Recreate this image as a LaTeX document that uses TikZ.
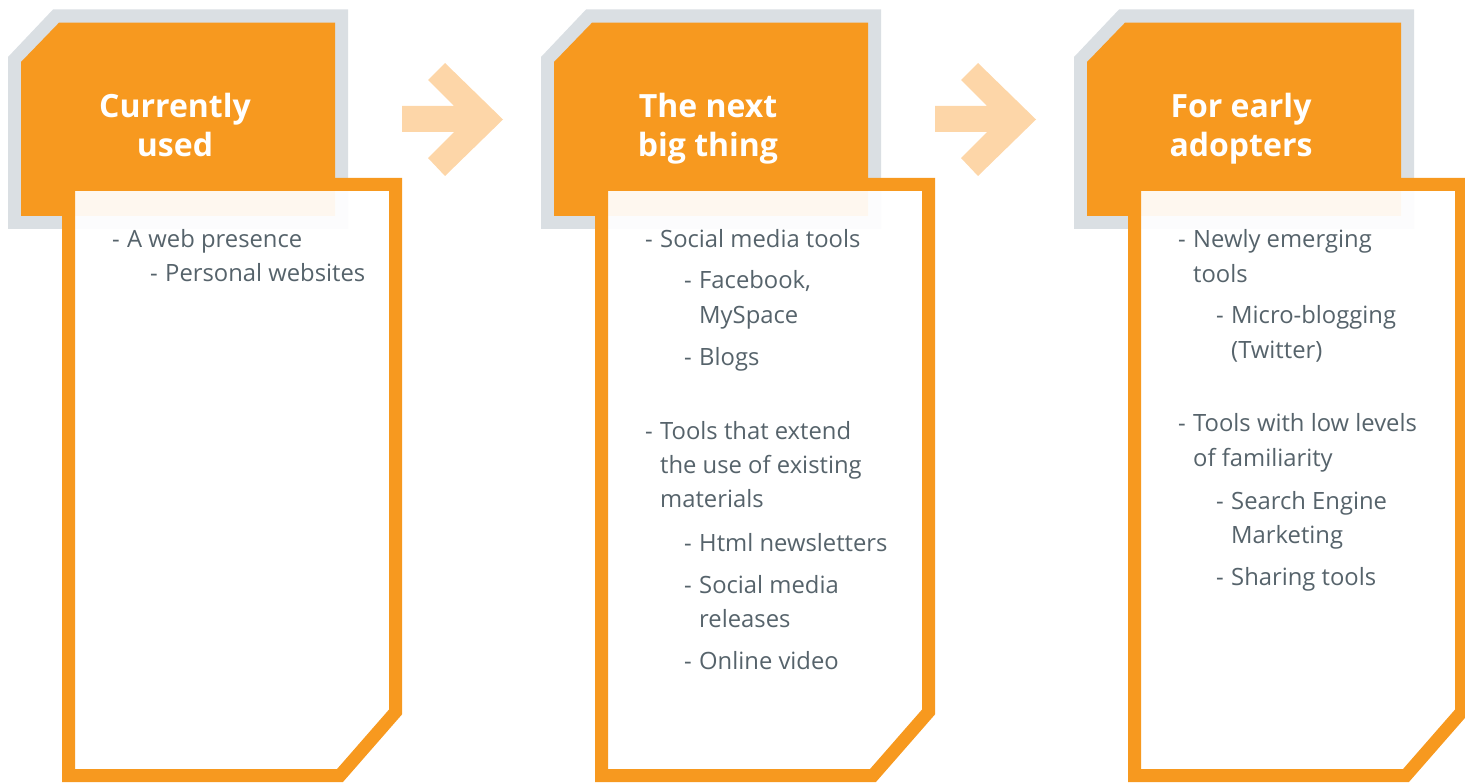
\documentclass[tikz,border=0pt]{standalone}
\usepackage{fontspec}
\setmainfont{Open Sans}
\usepackage{tikz}
\definecolor{hdrorange}{HTML}{F7991F}
\definecolor{shadegray}{HTML}{DADFE3}
\definecolor{arrowpeach}{HTML}{FDD6A8}
\definecolor{txtgray}{HTML}{56636B}
\newcommand{\dashitem}[1]{\makebox[15pt][l]{-}\begin{tabular}[t]{@{}l@{}}#1\end{tabular}}
\tikzset{
  hdrshadow/.style={fill=shadegray, draw=none},
  hdrbox/.style={fill=hdrorange, draw=none},
  listframe/.style={draw=hdrorange, line width=13pt, fill=white, fill opacity=0.93},
  flowarrow/.style={fill=arrowpeach, draw=none},
  hdrtitle/.style={anchor=base, inner sep=0pt, text=white, font=\fontsize{32}{39}\selectfont\bfseries},
  item/.style={anchor=base west, inner sep=0pt, text=txtgray, font=\fontsize{23.8}{34.5}\selectfont}
}

\begin{document}
\begin{tikzpicture}[x=1pt, y=-1pt]
	\useasboundingbox (0,0) rectangle (1465,783);
	%%%columns
	\foreach \i/\title in {0/{Currently\\used}, 1/{The next\\big thing}, 2/{For early\\adopters}}{
		\begin{scope}[xshift=\i*533pt]
			%header
			\fill[hdrshadow] (8,57) -- (53,9.5) -- (348,9.5) -- (348,229) -- (8,229) -- cycle;
			\fill[hdrbox] (21,62) -- (59,22.7) -- (335,22.7) -- (335,216) -- (21,216) -- cycle;
			%list frame
			\draw[listframe] (68.5,184.5) -- (395.5,184.5) -- (395.5,712) -- (340,775.5) -- (68.5,775.5) -- cycle;
			\node[hdrtitle] (title\i) at (175,118) {\begin{tabular}[t]{@{}c@{}}\title\end{tabular}};
		\end{scope}
	}
	%%%arrows
	\foreach \i in {0,1}{
		\fill[flowarrow, xshift=\i*533pt] (402,106) -- (454,106) -- (428,80) -- (445,63) -- (503,119.5)
			-- (445,176) -- (428,158) -- (454,132) -- (402,132) -- cycle;
	}
	%%%lists
	%currently used
	\node[item] (c1a) at (112,248) {\dashitem{A web presence}};
	\node[item] (c1b) at (150,282) {\dashitem{Personal websites}};
	%next big thing
	\node[item] (c2a) at (645,248) {\dashitem{Social media tools}};
	\node[item] (c2b) at (684,289) {\dashitem{Facebook,\\MySpace}};
	\node[item] (c2c) at (684,366) {\dashitem{Blogs}};
	\node[item] (c2d) at (645,439) {\dashitem{Tools that extend\\the use of existing\\materials}};
	\node[item] (c2e) at (684,551) {\dashitem{Html newsletters}};
	\node[item] (c2f) at (684,593) {\dashitem{Social media\\releases}};
	\node[item] (c2g) at (684,669) {\dashitem{Online video}};
	%early adopters
	\node[item] (c3a) at (1178,248) {\dashitem{Newly emerging\\tools}};
	\node[item] (c3b) at (1216,324) {\dashitem{Micro-blogging\\(Twitter)}};
	\node[item] (c3c) at (1178,432) {\dashitem{Tools with low levels\\of familiarity}};
	\node[item] (c3d) at (1216,509) {\dashitem{Search Engine\\Marketing}};
	\node[item] (c3e) at (1216,585) {\dashitem{Sharing tools}};
\end{tikzpicture}
\end{document}
